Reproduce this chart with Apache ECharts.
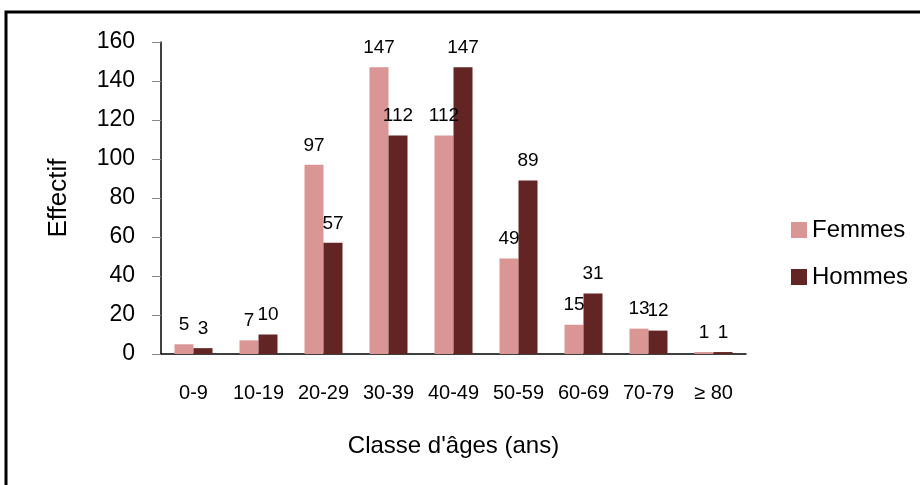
<!DOCTYPE html>
<html>
<head>
<meta charset="utf-8">
<script src="https://cdn.jsdelivr.net/npm/echarts@6/dist/echarts.min.js"></script>
<style>
  html, body { margin: 0; padding: 0; background: #fff; }
  #chart { width: 920px; height: 485px; }
</style>
</head>
<body>
<div id="chart"></div>
<script>
// age classes and counts
const categories = ['0-9', '10-19', '20-29', '30-39', '40-49', '50-59', '60-69', '70-79', '≥ 80'];
const femmes = [5, 7, 97, 147, 112, 49, 15, 13, 1];
const hommes = [3, 10, 57, 112, 147, 89, 31, 12, 1];

const font = "'Liberation Sans', Arial, sans-serif";

const chart = echarts.init(document.getElementById('chart'));

chart.setOption({
    animation: false,
    textStyle: { fontFamily: font },
    graphic: [{
        type: 'rect',
        shape: { x: 6, y: 12, width: 1000, height: 1000 },
        style: { fill: 'none', stroke: '#000', lineWidth: 3 }
    }],
    grid: { left: 161, right: 174, top: 42, bottom: 131 },
    legend: {
        orient: 'vertical',
        left: 786,
        top: 213,
        itemWidth: 16,
        itemHeight: 16,
        itemGap: 23,
        icon: 'rect',
        textStyle: { fontSize: 24, color: '#000', fontFamily: font },
        data: ['Femmes', 'Hommes']
    },
    xAxis: {
        type: 'category',
        data: categories,
        name: "Classe d'âges (ans)",
        nameLocation: 'middle',
        nameGap: 80,
        nameTextStyle: { fontSize: 24, color: '#000', fontFamily: font },
        axisLine: { lineStyle: { color: '#000', width: 1.5 } },
        axisTick: { show: false },
        axisLabel: { interval: 0, fontSize: 20, color: '#000', margin: 29, fontFamily: font }
    },
    yAxis: {
        type: 'value',
        min: 0,
        max: 160,
        interval: 20,
        name: 'Effectif',
        nameLocation: 'middle',
        nameGap: 89,
        nameRotate: 90,
        nameTextStyle: { fontSize: 26, color: '#000', fontFamily: font },
        axisLine: { show: true, lineStyle: { color: '#000', width: 1.5 } },
        axisTick: { show: true, inside: false, length: 9, lineStyle: { color: '#888' } },
        splitLine: { show: false },
        axisLabel: { fontSize: 23, color: '#000', margin: 26, fontFamily: font }
    },
    series: [
        {
            name: 'Femmes',
            type: 'bar',
            data: femmes,
            barWidth: 19,
            barGap: '0%',
            itemStyle: { color: '#D99694' },
            label: { show: true, position: 'top', distance: 10, fontSize: 19, color: '#000', fontFamily: font }
        },
        {
            name: 'Hommes',
            type: 'bar',
            data: hommes,
            barWidth: 19,
            itemStyle: { color: '#632523' },
            label: { show: true, position: 'top', distance: 10, fontSize: 19, color: '#000', fontFamily: font }
        }
    ]
});
</script>
</body>
</html>
